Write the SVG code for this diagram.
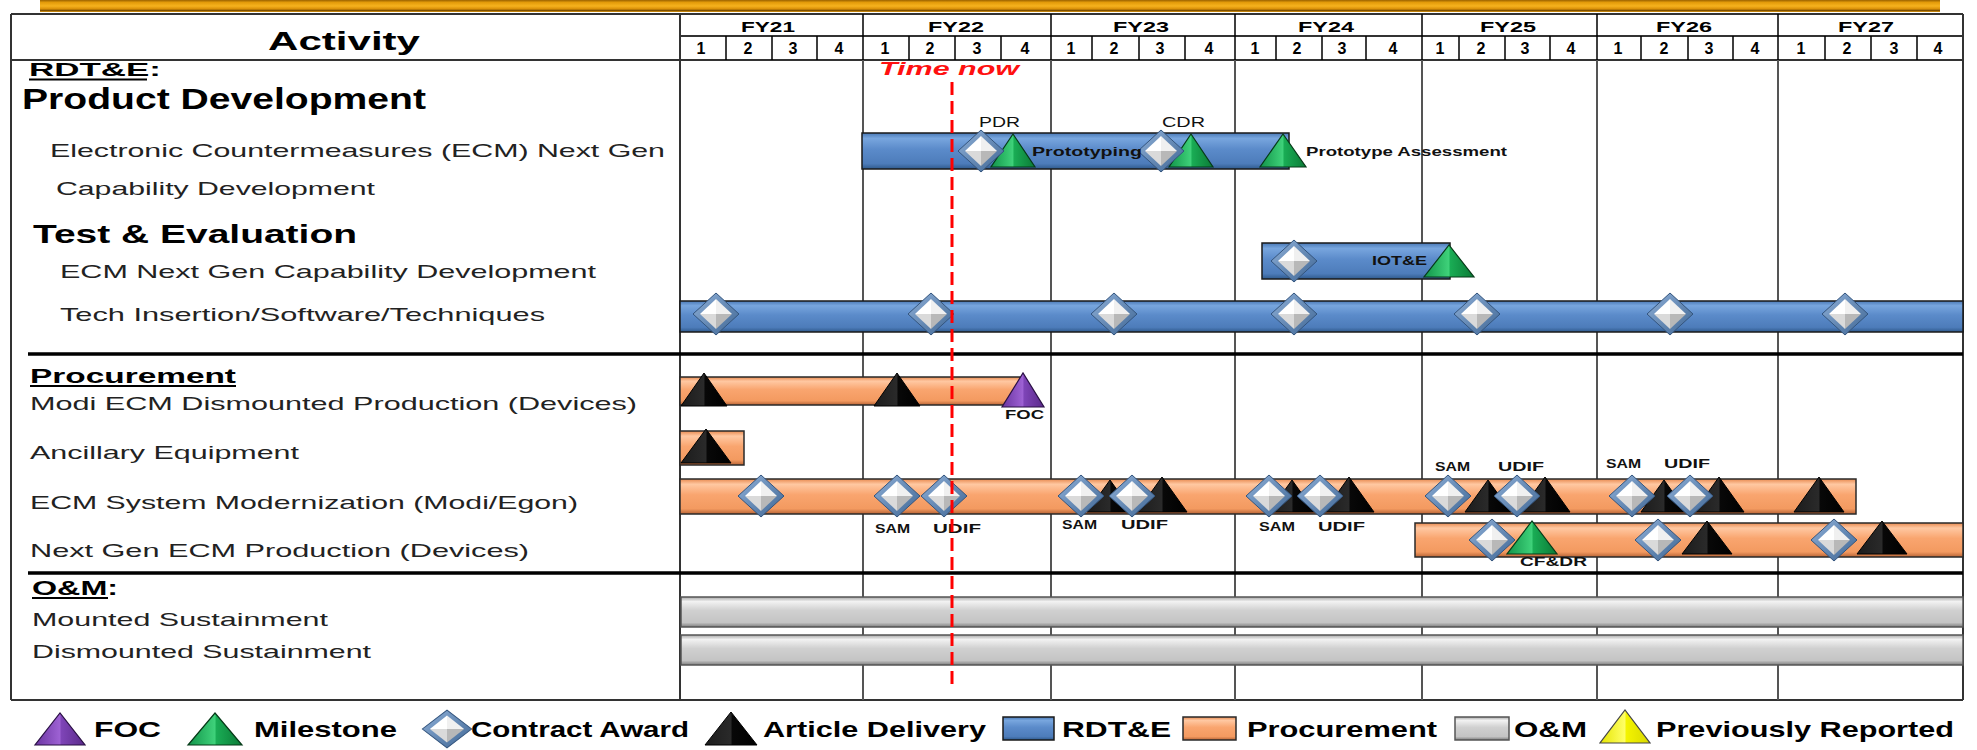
<svg xmlns="http://www.w3.org/2000/svg" xmlns:xlink="http://www.w3.org/1999/xlink" width="1977" height="750" viewBox="0 0 1977 750">
<defs>
<style>
text{font-family:"Liberation Sans",Arial,sans-serif;}
.b{font-weight:bold;fill:#000;}
.lbl{font-size:19px;fill:#222;}
.fy{font-size:15px;font-weight:bold;fill:#000;text-anchor:middle;}
.q{font-size:16px;font-weight:bold;fill:#000;text-anchor:middle;}
.sm{font-size:13px;font-weight:bold;fill:#111;}
.lg{font-size:22px;font-weight:bold;fill:#000;}
.frame{stroke:#333;stroke-width:2;fill:none;}
.yl{stroke:#555;stroke-width:2;fill:none;}
.ql{stroke:#000;stroke-width:1.5;fill:none;}
.div{stroke:#000;stroke-width:3.5;fill:none;}
.bb{fill:url(#gBlue);stroke:#1a1a1a;stroke-width:1.5;}
.bo{fill:url(#gOr);stroke:#2a2a2a;stroke-width:1.5;}
.bg{fill:url(#gGray);stroke:#555;stroke-width:1.5;}
.tk{fill:url(#gK);stroke:#000;stroke-width:1;}
.tg{fill:url(#gG);stroke:#063a18;stroke-width:1.2;}
.tp{fill:url(#gP);stroke:#2a1045;stroke-width:1.2;}
.ty{fill:url(#gY);stroke:#444;stroke-width:1.2;}
</style>
<linearGradient id="gGold" x1="0" y1="0" x2="0" y2="1">
<stop offset="0" stop-color="#9a6200"/><stop offset="0.2" stop-color="#e39b0a"/><stop offset="0.5" stop-color="#f6b21e"/><stop offset="0.75" stop-color="#d98f08"/><stop offset="0.88" stop-color="#7a4d00"/><stop offset="1" stop-color="#e8a010"/>
</linearGradient>
<linearGradient id="gBlue" x1="0" y1="0" x2="0" y2="1">
<stop offset="0" stop-color="#4a79b6"/><stop offset="0.15" stop-color="#78a6de"/><stop offset="0.45" stop-color="#5b8bca"/><stop offset="0.85" stop-color="#4d7cba"/><stop offset="1" stop-color="#2f5a8c"/>
</linearGradient>
<linearGradient id="gOr" x1="0" y1="0" x2="0" y2="1">
<stop offset="0" stop-color="#e88a50"/><stop offset="0.15" stop-color="#ffc8a2"/><stop offset="0.45" stop-color="#f9a56f"/><stop offset="0.85" stop-color="#f39a60"/><stop offset="1" stop-color="#b86436"/>
</linearGradient>
<linearGradient id="gGray" x1="0" y1="0" x2="0" y2="1">
<stop offset="0" stop-color="#a8a8a8"/><stop offset="0.15" stop-color="#f2f2f2"/><stop offset="0.45" stop-color="#d0d0d0"/><stop offset="0.85" stop-color="#c4c4c4"/><stop offset="1" stop-color="#7e7e7e"/>
</linearGradient>
<linearGradient id="gK" x1="0" y1="0" x2="1" y2="0">
<stop offset="0" stop-color="#1c1c1c"/><stop offset="0.5" stop-color="#2a2a2a"/><stop offset="0.52" stop-color="#080808"/><stop offset="1" stop-color="#000"/>
</linearGradient>
<linearGradient id="gG" x1="0" y1="0" x2="1" y2="0">
<stop offset="0" stop-color="#12944a"/><stop offset="0.5" stop-color="#3fd27a"/><stop offset="0.52" stop-color="#1aad55"/><stop offset="1" stop-color="#0b7a36"/>
</linearGradient>
<linearGradient id="gP" x1="0" y1="0" x2="1" y2="0">
<stop offset="0" stop-color="#6a34a0"/><stop offset="0.5" stop-color="#9e62d4"/><stop offset="0.52" stop-color="#7f45b8"/><stop offset="1" stop-color="#5a2a8a"/>
</linearGradient>
<linearGradient id="gY" x1="0" y1="0" x2="1" y2="0">
<stop offset="0" stop-color="#e6e600"/><stop offset="0.5" stop-color="#ffff66"/><stop offset="0.52" stop-color="#f4f400"/><stop offset="1" stop-color="#d8d800"/>
</linearGradient>
<linearGradient id="gDiaB" x1="0" y1="0" x2="1" y2="1">
<stop offset="0" stop-color="#8fb0d8"/><stop offset="1" stop-color="#3f6694"/>
</linearGradient>
<g id="dia">
<polygon points="0,-21 23,0 0,21 -23,0" fill="url(#gDiaB)" stroke="#34557e" stroke-width="1"/>
<polygon points="0,-15 0,0 -16,0" fill="#ffffff"/>
<polygon points="0,-15 16,0 0,0" fill="#f0f0f0"/>
<polygon points="-16,0 0,0 0,15" fill="#dadada"/>
<polygon points="16,0 0,15 0,0" fill="#b8b8b8"/>
</g>
</defs>
<rect width="1977" height="750" fill="#fff"/>
<rect x="40" y="0" width="1900" height="12" fill="url(#gGold)"/>

<g id="header">
<path class="frame" d="M11,14H1963M11,14V700M1963,14V700M11,700H1963M680,14V700M11,60H1963M680,36H1963"/>
<path class="ql" d="M863,14V60M1051,14V60M1235,14V60M1422,14V60M1597,14V60M1778,14V60"/>
<path class="ql" d="M726,36V60M772,36V60M817,36V60M909,36V60M955,36V60M1001,36V60M1092,36V60M1139,36V60M1185,36V60M1276,36V60M1322,36V60M1366,36V60M1459,36V60M1505,36V60M1550,36V60M1641,36V60M1688,36V60M1733,36V60M1825,36V60M1871,36V60M1917,36V60"/>
<path class="yl" d="M863,60V700M1051,60V700M1235,60V700M1422,60V700M1597,60V700M1778,60V700"/>
<text class="b" x="268" y="50" font-size="25" textLength="152" lengthAdjust="spacingAndGlyphs">Activity</text>
<text class="fy" x="768" y="32" textLength="54" lengthAdjust="spacingAndGlyphs">FY21</text>
<text class="fy" x="956" y="32" textLength="56" lengthAdjust="spacingAndGlyphs">FY22</text>
<text class="fy" x="1141" y="32" textLength="56" lengthAdjust="spacingAndGlyphs">FY23</text>
<text class="fy" x="1326" y="32" textLength="56" lengthAdjust="spacingAndGlyphs">FY24</text>
<text class="fy" x="1508" y="32" textLength="56" lengthAdjust="spacingAndGlyphs">FY25</text>
<text class="fy" x="1684" y="32" textLength="56" lengthAdjust="spacingAndGlyphs">FY26</text>
<text class="fy" x="1866" y="32" textLength="56" lengthAdjust="spacingAndGlyphs">FY27</text>
<g>
<text class="q" x="701" y="54">1</text><text class="q" x="748" y="54">2</text><text class="q" x="793" y="54">3</text><text class="q" x="839" y="54">4</text>
<text class="q" x="885" y="54">1</text><text class="q" x="930" y="54">2</text><text class="q" x="977" y="54">3</text><text class="q" x="1025" y="54">4</text>
<text class="q" x="1071" y="54">1</text><text class="q" x="1114" y="54">2</text><text class="q" x="1160" y="54">3</text><text class="q" x="1209" y="54">4</text>
<text class="q" x="1255" y="54">1</text><text class="q" x="1297" y="54">2</text><text class="q" x="1342" y="54">3</text><text class="q" x="1393" y="54">4</text>
<text class="q" x="1440" y="54">1</text><text class="q" x="1481" y="54">2</text><text class="q" x="1525" y="54">3</text><text class="q" x="1571" y="54">4</text>
<text class="q" x="1618" y="54">1</text><text class="q" x="1664" y="54">2</text><text class="q" x="1709" y="54">3</text><text class="q" x="1755" y="54">4</text>
<text class="q" x="1801" y="54">1</text><text class="q" x="1847" y="54">2</text><text class="q" x="1894" y="54">3</text><text class="q" x="1938" y="54">4</text>
</g>
</g>

<g id="activity-labels">
<text class="b" x="29" y="76" font-size="19" textLength="132" lengthAdjust="spacingAndGlyphs">RDT&amp;E:</text>
<path d="M29,79.5H147" stroke="#000" stroke-width="1.8"/>
<text class="b" x="22" y="109" font-size="29" textLength="404" lengthAdjust="spacingAndGlyphs">Product Development</text>
<text class="lbl" x="50" y="157" textLength="615" lengthAdjust="spacingAndGlyphs">Electronic Countermeasures (ECM) Next Gen</text>
<text class="lbl" x="56" y="195" textLength="319" lengthAdjust="spacingAndGlyphs">Capability Development</text>
<text class="b" x="33" y="243" font-size="25" textLength="324" lengthAdjust="spacingAndGlyphs">Test &amp; Evaluation</text>
<text class="lbl" x="60" y="278" textLength="536" lengthAdjust="spacingAndGlyphs">ECM Next Gen Capability Development</text>
<text class="lbl" x="60" y="321" textLength="485" lengthAdjust="spacingAndGlyphs">Tech Insertion/Software/Techniques</text>
<text class="b" x="30" y="383" font-size="21" textLength="206" lengthAdjust="spacingAndGlyphs">Procurement</text>
<path d="M30,386H236" stroke="#000" stroke-width="1.8"/>
<text class="lbl" x="30" y="410" textLength="607" lengthAdjust="spacingAndGlyphs">Modi ECM Dismounted Production (Devices)</text>
<text class="lbl" x="30" y="459" textLength="269" lengthAdjust="spacingAndGlyphs">Ancillary Equipment</text>
<text class="lbl" x="30" y="509" textLength="548" lengthAdjust="spacingAndGlyphs">ECM System Modernization (Modi/Egon)</text>
<text class="lbl" x="30" y="557" textLength="499" lengthAdjust="spacingAndGlyphs">Next Gen ECM Production (Devices)</text>
<text class="b" x="32" y="595" font-size="21" textLength="86" lengthAdjust="spacingAndGlyphs">O&amp;M:</text>
<path d="M32,598H108" stroke="#000" stroke-width="1.8"/>
<text class="lbl" x="32" y="626" textLength="296" lengthAdjust="spacingAndGlyphs">Mounted Sustainment</text>
<text class="lbl" x="32" y="658" textLength="339" lengthAdjust="spacingAndGlyphs">Dismounted Sustainment</text>
</g>

<g id="dividers">
<path class="div" d="M28,354H1963M28,573H1963"/>
</g>

<g id="row-ecm-nextgen-pd">
<rect class="bb" x="862" y="133" width="427" height="36"/>
<polygon class="tg" points="991,167 1035,167 1013,134"/>
<polygon class="tg" points="1169,167 1213,167 1191,134"/>
<polygon class="tg" points="1260,167 1306,167 1283,134"/>
<use href="#dia" x="981" y="151"/>
<use href="#dia" x="1161" y="151"/>
<text x="979" y="127" font-size="14" fill="#111" textLength="41" lengthAdjust="spacingAndGlyphs">PDR</text>
<text x="1162" y="127" font-size="14" fill="#111" textLength="43" lengthAdjust="spacingAndGlyphs">CDR</text>
<text class="sm" x="1032" y="156" font-size="14" textLength="110" lengthAdjust="spacingAndGlyphs">Prototyping</text>
<text class="sm" x="1306" y="156" font-size="14" textLength="201" lengthAdjust="spacingAndGlyphs">Prototype Assessment</text>
</g>

<g id="row-te-ecm">
<rect class="bb" x="1262" y="243" width="188" height="36"/>
<use href="#dia" x="1294" y="261"/>
<text class="sm" x="1372" y="265" textLength="55" lengthAdjust="spacingAndGlyphs">IOT&amp;E</text>
<polygon class="tg" points="1424,277 1474,277 1449,245"/>
</g>

<g id="row-tech-insertion">
<rect class="bb" x="680" y="301" width="1283" height="31"/>
<use href="#dia" x="716" y="314"/>
<use href="#dia" x="931" y="314"/>
<use href="#dia" x="1114" y="314"/>
<use href="#dia" x="1294" y="314"/>
<use href="#dia" x="1477" y="314"/>
<use href="#dia" x="1670" y="314"/>
<use href="#dia" x="1845" y="314"/>
</g>

<g id="row-modi-dismounted">
<rect class="bo" x="680" y="377" width="340" height="28"/>
<polygon class="tk" points="681,406 727,406 704,373"/>
<polygon class="tk" points="874,406 920,406 897,373"/>
<polygon class="tp" points="1002,407 1044,407 1023,373"/>
<text class="sm" x="1005" y="419" font-size="12" textLength="39" lengthAdjust="spacingAndGlyphs">FOC</text>
</g>

<g id="row-ancillary">
<rect class="bo" x="680" y="431" width="64" height="34"/>
<polygon class="tk" points="681,463 731,463 706,429"/>
</g>

<g id="row-ecm-sysmod">
<rect class="bo" x="680" y="479" width="1176" height="35"/>
<polygon class="tk" points="1087,512 1133,512 1110,480"/>
<polygon class="tk" points="1137,512 1187,512 1162,477"/>
<polygon class="tk" points="1269,512 1315,512 1292,480"/>
<polygon class="tk" points="1324,512 1374,512 1349,477"/>
<polygon class="tk" points="1465,512 1511,512 1488,480"/>
<polygon class="tk" points="1520,512 1570,512 1545,477"/>
<polygon class="tk" points="1641,512 1687,512 1664,480"/>
<polygon class="tk" points="1694,512 1744,512 1719,477"/>
<polygon class="tk" points="1794,512 1844,512 1819,477"/>
<use href="#dia" x="761" y="496"/>
<use href="#dia" x="897" y="496"/>
<use href="#dia" x="944" y="496"/>
<use href="#dia" x="1081" y="496"/>
<use href="#dia" x="1132" y="496"/>
<use href="#dia" x="1269" y="496"/>
<use href="#dia" x="1320" y="496"/>
<use href="#dia" x="1448" y="496"/>
<use href="#dia" x="1517" y="496"/>
<use href="#dia" x="1632" y="496"/>
<use href="#dia" x="1690" y="496"/>
<text class="sm" x="875" y="533" font-size="12" textLength="35" lengthAdjust="spacingAndGlyphs">SAM</text>
<text class="sm" x="933" y="533" textLength="48" lengthAdjust="spacingAndGlyphs">UDIF</text>
<text class="sm" x="1062" y="529" font-size="12" textLength="35" lengthAdjust="spacingAndGlyphs">SAM</text>
<text class="sm" x="1121" y="529" textLength="47" lengthAdjust="spacingAndGlyphs">UDIF</text>
<text class="sm" x="1259" y="531" font-size="12" textLength="36" lengthAdjust="spacingAndGlyphs">SAM</text>
<text class="sm" x="1318" y="531" textLength="47" lengthAdjust="spacingAndGlyphs">UDIF</text>
<text class="sm" x="1435" y="471" font-size="12" textLength="35" lengthAdjust="spacingAndGlyphs">SAM</text>
<text class="sm" x="1498" y="471" textLength="46" lengthAdjust="spacingAndGlyphs">UDIF</text>
<text class="sm" x="1606" y="468" font-size="12" textLength="35" lengthAdjust="spacingAndGlyphs">SAM</text>
<text class="sm" x="1664" y="468" textLength="46" lengthAdjust="spacingAndGlyphs">UDIF</text>
</g>

<g id="row-nextgen-production">
<rect class="bo" x="1415" y="523" width="548" height="34"/>
<polygon class="tg" points="1507,554 1557,554 1532,521"/>
<polygon class="tk" points="1682,554 1732,554 1707,521"/>
<polygon class="tk" points="1857,554 1907,554 1882,521"/>
<use href="#dia" x="1492" y="540"/>
<use href="#dia" x="1658" y="540"/>
<use href="#dia" x="1834" y="540"/>
<text class="sm" x="1520" y="566" font-size="12" textLength="67" lengthAdjust="spacingAndGlyphs">CF&amp;DR</text>
</g>

<g id="row-mounted">
<rect class="bg" x="681" y="597" width="1282" height="30"/>
</g>
<g id="row-dismounted">
<rect class="bg" x="681" y="635" width="1282" height="30"/>
</g>

<g id="connectors">
<path d="M952,82V687" stroke="#ff0000" stroke-width="3" stroke-dasharray="13 6" fill="none"/>
<text x="879" y="75" font-size="18" font-weight="bold" font-style="italic" fill="#ff1010" textLength="140" lengthAdjust="spacingAndGlyphs">Time now</text>
</g>

<g id="legend">
<polygon class="tp" points="35,745 85,745 60,713"/>
<text class="lg" x="94" y="737" textLength="67" lengthAdjust="spacingAndGlyphs">FOC</text>
<polygon class="tg" points="188,745 242,745 215,713"/>
<text class="lg" x="254" y="737" textLength="143" lengthAdjust="spacingAndGlyphs">Milestone</text>
<use href="#dia" transform="translate(447,729) scale(1.07,0.9)"/>
<text class="lg" x="471" y="737" textLength="218" lengthAdjust="spacingAndGlyphs">Contract Award</text>
<polygon class="tk" points="705,745 757,745 731,712"/>
<text class="lg" x="763" y="737" textLength="223" lengthAdjust="spacingAndGlyphs">Article Delivery</text>
<rect class="bb" x="1003" y="717" width="51" height="23"/>
<text class="lg" x="1062" y="737" textLength="109" lengthAdjust="spacingAndGlyphs">RDT&amp;E</text>
<rect class="bo" x="1183" y="717" width="53" height="23"/>
<text class="lg" x="1247" y="737" textLength="190" lengthAdjust="spacingAndGlyphs">Procurement</text>
<rect class="bg" x="1455" y="717" width="54" height="23"/>
<text class="lg" x="1514" y="737" textLength="73" lengthAdjust="spacingAndGlyphs">O&amp;M</text>
<polygon class="ty" points="1600,743 1650,743 1625,710"/>
<text class="lg" x="1656" y="737" textLength="298" lengthAdjust="spacingAndGlyphs">Previously Reported</text>
</g>
</svg>
